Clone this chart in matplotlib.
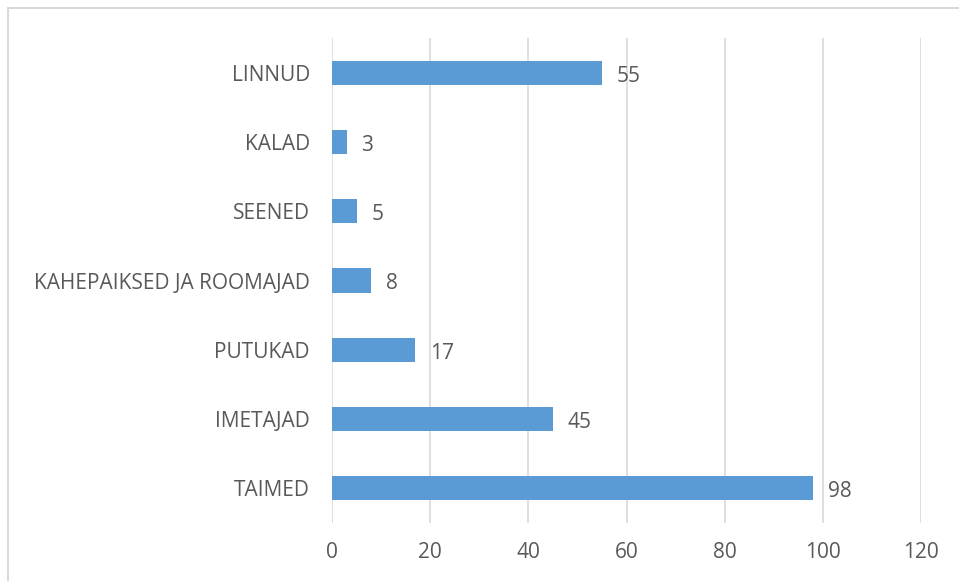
import matplotlib.pyplot as plt
import matplotlib.patches as mpatches

# Data
categories = ['TAIMED', 'IMETAJAD', 'PUTUKAD', 'KAHEPAIKSED JA ROOMAJAD', 'SEENED', 'KALAD', 'LINNUD']
values = [98, 45, 17, 8, 5, 3, 55]
xticks = [0, 20, 40, 60, 80, 100, 120]

text_color = '#595959'
plt.rcParams['font.family'] = ['Open Sans', 'DejaVu Sans']
fs = 15

fig = plt.figure(figsize=(9.59, 5.81), dpi=100)
ax = fig.add_axes([0.3462, 0.0998, 0.6142, 0.8348])

# Outer chart border
fig.patches.append(mpatches.Rectangle((8 / 959, -0.05), 1.1, 1 - 8 / 581 + 0.05,
                                      transform=fig.transFigure, fill=False,
                                      edgecolor='#D9D9D9', lw=1.5))

bars = ax.barh(categories, values, height=0.35, color='#5B9BD5', zorder=3)
for bar, v in zip(bars, values):
    ax.text(v + 3, bar.get_y() + bar.get_height() / 2 - 0.05, str(v),
            va='center', ha='left', fontsize=fs, color=text_color)

ax.set_xlim(0, 120)
ax.set_ylim(-0.5, len(categories) - 0.5)
ax.set_xticks(xticks)
ax.grid(axis='x', color='#D9D9D9', lw=1.2, zorder=0)
for s in ax.spines.values():
    s.set_visible(False)
ax.tick_params(axis='both', length=0, labelsize=fs, labelcolor=text_color)
ax.tick_params(axis='y', pad=16)
ax.tick_params(axis='x', pad=14)

plt.savefig('out.png', dpi=100)
